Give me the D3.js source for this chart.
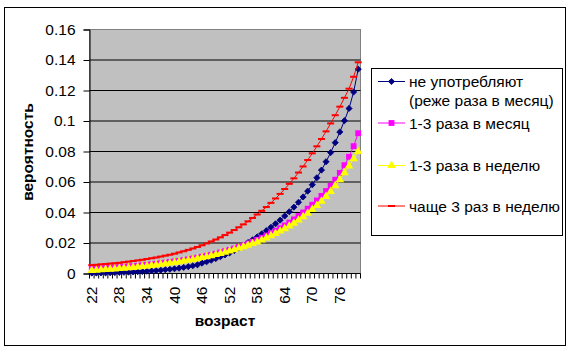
<!DOCTYPE html>
<html>
<head>
<meta charset="utf-8">
<script src="https://cdn.jsdelivr.net/npm/d3@7"></script>
<style>
  body { margin: 0; background: #fff; }
  text { font-family: Arial, "Liberation Sans", sans-serif; }
</style>
</head>
<body>
<div id="chart"></div>
<script>
// ages on the category axis
const ages = d3.range(22, 81);
const xTickLabels = ['22', '28', '34', '40', '46', '52', '58', '64', '70', '76'];
const yTicks = [0, 0.02, 0.04, 0.06, 0.08, 0.1, 0.12, 0.14, 0.16];
const yTickLabels = ['0', '0.02', '0.04', '0.06', '0.08', '0.1', '0.12', '0.14', '0.16'];

// values, one per age 22..80
const neverVals = [
  .0003, .0003, .0004, .0004, .0005, .0006, .0007, .0008, .0009, .0010,
  .0012, .0013, .0015, .0017, .0019, .0022, .0025, .0028, .0031, .0035,
  .0040, .0045, .0051, .0057, .0068, .0077, .0087, .0098, .0110, .0122,
  .0135, .0150, .0167, .0185, .0203, .0221, .0240, .0260, .0281, .0303,
  .0326, .0350, .0377, .0405, .0435, .0467, .0502, .0540, .0582, .0628,
  .0678, .0733, .0793, .0858, .0928, .1002, .1082, .1190, .1340
];
const monthVals = [
  .0030, .0031, .0033, .0035, .0037, .0039, .0041, .0043, .0046, .0048,
  .0051, .0054, .0057, .0060, .0063, .0067, .0071, .0075, .0079, .0083,
  .0088, .0093, .0098, .0104, .0110, .0116, .0123, .0130, .0138, .0146,
  .0155, .0164, .0174, .0185, .0196, .0208, .0221, .0235, .0249, .0264,
  .0280, .0297, .0315, .0334, .0355, .0377, .0400, .0425, .0451, .0479,
  .0509, .0541, .0575, .0615, .0660, .0710, .0765, .0835, .0920
];
const weekVals = [
  .0020, .0022, .0024, .0026, .0028, .0030, .0033, .0035, .0038, .0040,
  .0043, .0046, .0049, .0052, .0056, .0060, .0064, .0068, .0072, .0077,
  .0082, .0087, .0092, .0098, .0104, .0110, .0117, .0124, .0131, .0139,
  .0147, .0156, .0165, .0175, .0185, .0196, .0207, .0219, .0233, .0247,
  .0262, .0278, .0294, .0312, .0330, .0350, .0372, .0395, .0420, .0446,
  .0474, .0505, .0538, .0575, .0615, .0660, .0705, .0752, .0800
];
const oftenVals = [
  .0055, .0057, .0060, .0062, .0065, .0067, .0070, .0074, .0078, .0082,
  .0086, .0090, .0095, .0100, .0105, .0111, .0117, .0123, .0130, .0138,
  .0146, .0155, .0164, .0174, .0185, .0197, .0210, .0223, .0237, .0252,
  .0268, .0285, .0303, .0322, .0342, .0364, .0387, .0411, .0436, .0463,
  .0492, .0522, .0554, .0588, .0624, .0662, .0702, .0744, .0788, .0834,
  .0882, .0932, .0984, .1038, .1094, .1152, .1212, .1290, .1385
];

const seriesNames = [
  ['не употребляют', '(реже раза в месяц)'],
  ['1-3 раза в месяц'],
  ['1-3 раза в неделю'],
  ['чаще 3 раз в неделю']
];

const series = [
  { name: seriesNames[0], values: neverVals, color: '#000080', marker: 'diamond' },
  { name: seriesNames[1], values: monthVals, color: '#ff00ff', marker: 'square' },
  { name: seriesNames[2], values: weekVals, color: '#ffff00', marker: 'triangle' },
  { name: seriesNames[3], values: oftenVals, color: '#ff0000', marker: 'dash' }
];

const width = 570, height = 353;
const svg = d3.select('#chart').append('svg')
  .attr('width', width)
  .attr('height', height);

// outer chart border
svg.append('rect')
  .attr('x', 4.5).attr('y', 7.5)
  .attr('width', 561).attr('height', 338)
  .attr('fill', '#fff').attr('stroke', '#000');

const x = d3.scaleBand().domain(ages).range([89.5, 360.5]).padding(0);
const y = d3.scaleLinear().domain([0, 0.16]).range([273.5, 29.5]);

// plot area
svg.append('rect')
  .attr('x', 89.5).attr('y', y(0.16))
  .attr('width', 271).attr('height', y(0) - y(0.16))
  .attr('fill', '#c0c0c0').attr('stroke', '#808080');

// gridlines
svg.append('g').selectAll('line')
  .data(yTicks.slice(1, -1))
  .enter().append('line')
  .attr('x1', 89.5).attr('x2', 360.5)
  .attr('y1', d => y(d)).attr('y2', d => y(d))
  .attr('stroke', '#000');

// y axis
const yAxis = svg.append('g')
  .attr('transform', 'translate(89.5,0)')
  .call(d3.axisLeft(y).tickValues(yTicks).tickSize(6).tickPadding(8)
    .tickFormat((d, i) => yTickLabels[i]));
yAxis.select('.domain').attr('stroke', '#000');
yAxis.selectAll('.tick line').attr('stroke', '#000');
yAxis.selectAll('text')
  .attr('font-size', 15.5).attr('fill', '#000')
  .attr('font-family', 'Arial, "Liberation Sans", sans-serif');

// x axis: ticks between categories, labels every 6 years
const xAxisG = svg.append('g').attr('transform', `translate(0,${y(0)})`);
xAxisG.append('line')
  .attr('x1', 89.5).attr('x2', 360.5)
  .attr('stroke', '#000');
xAxisG.selectAll('line.tk')
  .data(ages.concat([null]))
  .enter().append('line')
  .attr('class', 'tk')
  .attr('x1', d => d === null ? x.range()[1] : x(d))
  .attr('x2', d => d === null ? x.range()[1] : x(d))
  .attr('y1', 0).attr('y2', 5)
  .attr('stroke', '#000');
xAxisG.selectAll('text')
  .data(xTickLabels)
  .enter().append('text')
  .attr('transform', d => `translate(${x(+d) + x.bandwidth() / 2 - 0.5},13) rotate(-90)`)
  .attr('text-anchor', 'end')
  .attr('dy', '0.36em')
  .attr('font-size', 15.5)
  .text(d => d);

// axis titles
svg.append('text')
  .attr('x', 225).attr('y', 326)
  .attr('text-anchor', 'middle')
  .attr('font-size', 15.5).attr('font-weight', 'bold')
  .text('возраст');
svg.append('text')
  .attr('transform', 'translate(33,152) rotate(-90)')
  .attr('text-anchor', 'middle')
  .attr('font-size', 15.5).attr('font-weight', 'bold')
  .text('вероятность');

const symbols = {
  diamond: d3.symbol().type(d3.symbolSquare).size(19)(),
  square: d3.symbol().type(d3.symbolSquare).size(34)(),
  triangle: d3.symbol().type(d3.symbolTriangle).size(32)()
};

function drawMarker(g, kind, color) {
  if (kind === 'dash') {
    g.append('rect')
      .attr('x', -3.5).attr('y', -1)
      .attr('width', 7).attr('height', 2)
      .attr('fill', color);
  } else {
    g.append('path')
      .attr('d', symbols[kind])
      .attr('transform', kind === 'diamond' ? 'rotate(45)' : null)
      .attr('fill', color)
      .attr('stroke', color).attr('stroke-width', kind === 'diamond' ? 0.8 : 0);
  }
}

const line = d3.line()
  .x((d, i) => x(ages[i]) + x.bandwidth() / 2)
  .y(d => y(d));

series.forEach(s => {
  const g = svg.append('g');
  g.append('path')
    .datum(s.values)
    .attr('fill', 'none')
    .attr('stroke', s.color)
    .attr('stroke-width', 1)
    .attr('d', line);
  g.selectAll('g.pt')
    .data(s.values)
    .enter().append('g')
    .attr('class', 'pt')
    .attr('transform', (d, i) => `translate(${x(ages[i]) + x.bandwidth() / 2},${y(d)})`)
    .each(function() { drawMarker(d3.select(this), s.marker, s.color); });
});

// legend
const legend = svg.append('g');
legend.append('rect')
  .attr('x', 371.5).attr('y', 68.5)
  .attr('width', 191).attr('height', 167)
  .attr('fill', '#fff').attr('stroke', '#000');

const legendY = [81.5, 123, 165.5, 206];
series.forEach((s, i) => {
  const g = legend.append('g').attr('transform', `translate(0,${legendY[i]})`);
  g.append('line')
    .attr('x1', 378).attr('x2', 405)
    .attr('stroke', s.color);
  const m = g.append('g').attr('transform', 'translate(391.5,0)');
  drawMarker(m, s.marker, s.color);
  s.name.forEach((t, j) => {
    g.append('text')
      .attr('x', 409).attr('y', j * 18.5)
      .attr('dy', '0.36em')
      .attr('font-size', 15.5)
      .text(t);
  });
});
</script>
</body>
</html>
